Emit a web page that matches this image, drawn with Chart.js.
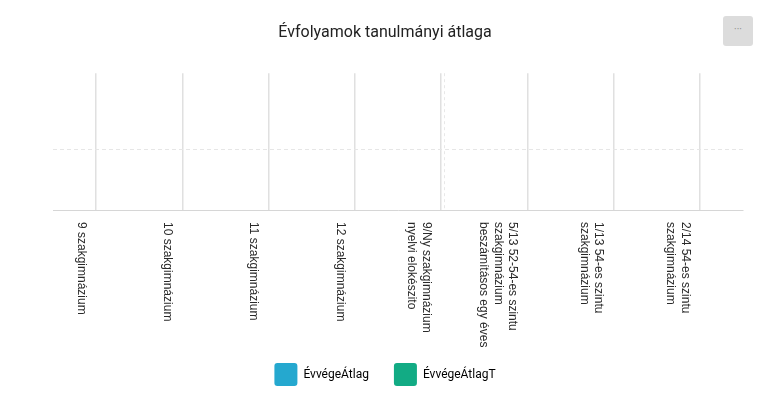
<!DOCTYPE html>
<html>
<head>
<meta charset="utf-8">
<script src="https://cdn.jsdelivr.net/npm/chart.js@4"></script>
<style>
  body { margin: 0; background: #fff; }
  #wrap { position: relative; width: 766px; height: 418px; }
  #menu { position: absolute; left: 723px; top: 16px; width: 30px; height: 30px; background: #dcdcdc;
          border-radius: 3px; color: #8a8a8a; font: 10px Roboto, sans-serif; text-align: center; line-height: 28px; }
</style>
</head>
<body>
<div id="wrap">
  <canvas id="chart" width="766" height="418"></canvas>
  <div id="menu">&middot;&middot;&middot;</div>
</div>
<script>
// kategóriák (sortörésekkel, ahogy a képen)
var categories = [
    ["9 szakgimnázium"],
    ["10 szakgimnázium"],
    ["11 szakgimnázium"],
    ["12 szakgimnázium"],
    ["9/Ny szakgimnázium", "nyelvi elokészito"],
    ["5/13 52-54-es szintu", "szakgimnázium", "beszámításos egy éves"],
    ["1/13 54-es szintu", "szakgimnázium"],
    ["2/14 54-es szintu", "szakgimnázium"]
];
// nincs adat a képen
var evvegeAtlag = [null, null, null, null, null, null, null, null];
var evvegeAtlagT = [null, null, null, null, null, null, null, null];
var yGridValues = [0, 0.44, 1];
var zeroLineValue = 0.568;

// címkék lefelé olvasva (+90 fok)
var downLabels = {
    id: 'downLabels',
    afterDraw: function (chart) {
        var ctx = chart.ctx;
        var xs = chart.scales.x;
        ctx.save();
        ctx.font = '12px "Liberation Sans", Arial, sans-serif';
        ctx.fillStyle = '#2a2a2a';
        ctx.textAlign = 'left';
        ctx.textBaseline = 'middle';
        categories.forEach(function (lines, i) {
            var px = xs.getPixelForTick(i);
            ctx.save();
            ctx.translate(px - 15, xs.top + 12);
            ctx.rotate(Math.PI / 2);
            lines.forEach(function (t, j) {
                ctx.fillText(t, 0, j * 14.5);
            });
            ctx.restore();
        });
        ctx.restore();
    }
};

var ctx = document.getElementById("chart").getContext('2d');
var myChart = new Chart(ctx, {
    type: 'bar',
    data: {
        labels: categories,
        datasets: [
            { label: 'ÉvvégeÁtlag', data: evvegeAtlag, backgroundColor: '#25a8cf' },
            { label: 'ÉvvégeÁtlagT', data: evvegeAtlagT, backgroundColor: '#12ab84' }
        ]
    },
    options: {
        responsive: false,
        animation: false,
        layout: { padding: { left: 4, right: 0, top: 0, bottom: 22 } },
        plugins: {
            title: {
                display: true,
                text: 'Évfolyamok tanulmányi átlaga',
                color: '#222',
                font: { family: 'Roboto', size: 16, weight: 'normal' },
                padding: { top: 23, bottom: 31 }
            },
            legend: {
                position: 'bottom',
                labels: {
                    boxWidth: 23, boxHeight: 23, padding: 25,
                    color: '#222',
                    font: { family: 'Roboto', size: 12 },
                    generateLabels: function (chart) {
                        return chart.data.datasets.map(function (ds, i) {
                            return { text: ds.label, fillStyle: ds.backgroundColor, strokeStyle: ds.backgroundColor,
                                     lineWidth: 0, borderRadius: 3, datasetIndex: i };
                        });
                    }
                }
            },
            tooltip: { enabled: false }
        },
        scales: {
            x: {
                grid: { offset: false, color: '#e0e0e0', lineWidth: 1.5, drawTicks: false },
                border: { color: '#d6d6d6' },
                ticks: { display: false },
                afterFit: function (scale) { scale.height = 128; }
            },
            x2: {
                type: 'linear', position: 'bottom', min: 0, max: 1, offset: false,
                afterBuildTicks: function (scale) { scale.ticks = [{ value: zeroLineValue }]; },
                grid: { offset: false, color: '#e8e8e8', drawTicks: false },
                border: { display: false, dash: [3, 3] },
                ticks: { display: false }
            },
            y: {
                min: 0, max: 1,
                afterBuildTicks: function (scale) {
                    scale.ticks = yGridValues.map(function (v) { return { value: v }; });
                },
                grid: {
                    drawTicks: false,
                    color: function (c) { return c.tick && c.tick.value === yGridValues[1] ? '#e6e6e6' : 'rgba(0,0,0,0)'; }
                },
                border: { display: false, dash: [4, 3] },
                ticks: { display: false },
                afterFit: function (scale) { scale.width = 49; }
            },
            y2: {
                position: 'right', min: 0, max: 1,
                grid: { display: false, drawTicks: false },
                border: { display: false },
                ticks: { display: false },
                afterFit: function (scale) { scale.width = 23; }
            }
        }
    },
    plugins: [downLabels]
});
</script>
</body>
</html>
